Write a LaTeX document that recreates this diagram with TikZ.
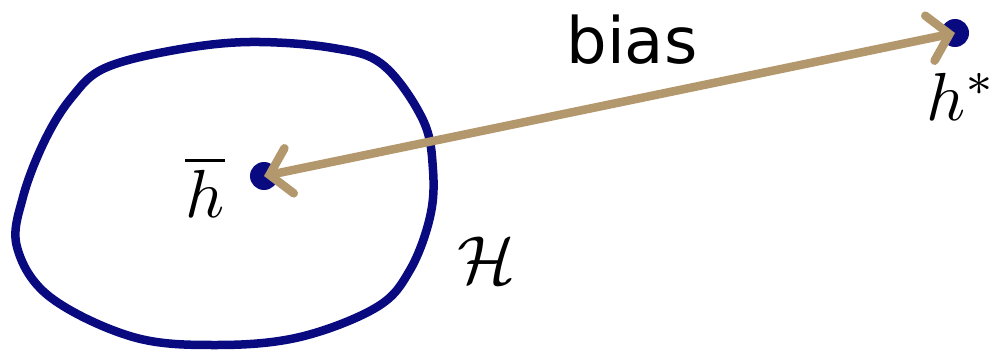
\documentclass[tikz,border=0pt]{standalone}
\usepackage{fontspec}
\newfontfamily\labelfont{DejaVu Sans}
\usetikzlibrary{arrows.meta}
\definecolor{blobblue}{RGB}{10,10,128}
\definecolor{tan}{RGB}{178,152,108}
\tikzset{
  dot/.style={circle, fill=blobblue, inner sep=0pt, minimum size=28pt},
  biasarrow/.style={draw=tan, line width=8.5pt, line cap=round,
    {Straight Barb[length=20pt,width=46pt,line cap=round]}-{Straight Barb[length=20pt,width=46pt,line cap=round]}},
  mathlbl/.style={inner sep=0pt, scale=6.8},
}
\begin{document}
\begin{tikzpicture}[x=1pt,y=-1pt]
\useasboundingbox (0,0) rectangle (993,353);
\draw[blobblue, line width=8.5pt] plot[smooth cycle, tension=0.6] coordinates {
  (105,68) (175,50) (250,42) (333,48) (383,65) (423,120) (433,170) (430,217)
  (410,270) (377,307) (300,337) (217,345) (133,337) (50,297) (17,247)
  (23,197) (45,140) (72,97)};
\node[dot] (hbar) at (264,176) {};
\node[dot] (hstar) at (955,33) {};
\draw[biasarrow] (hbar.center) -- (hstar.center);
\node[inner sep=0pt, font=\labelfont\fontsize{64}{70}\selectfont] (bias) at (632,40) {bias};
\node[mathlbl] (hbarlbl) at (205,187) {$\overline{h}$};
\node[mathlbl] (hstarlbl) at (962,97) {$h^*$};
\node[mathlbl] (Hlbl) at (487,260) {$\mathcal{H}$};
\end{tikzpicture}
\end{document}
